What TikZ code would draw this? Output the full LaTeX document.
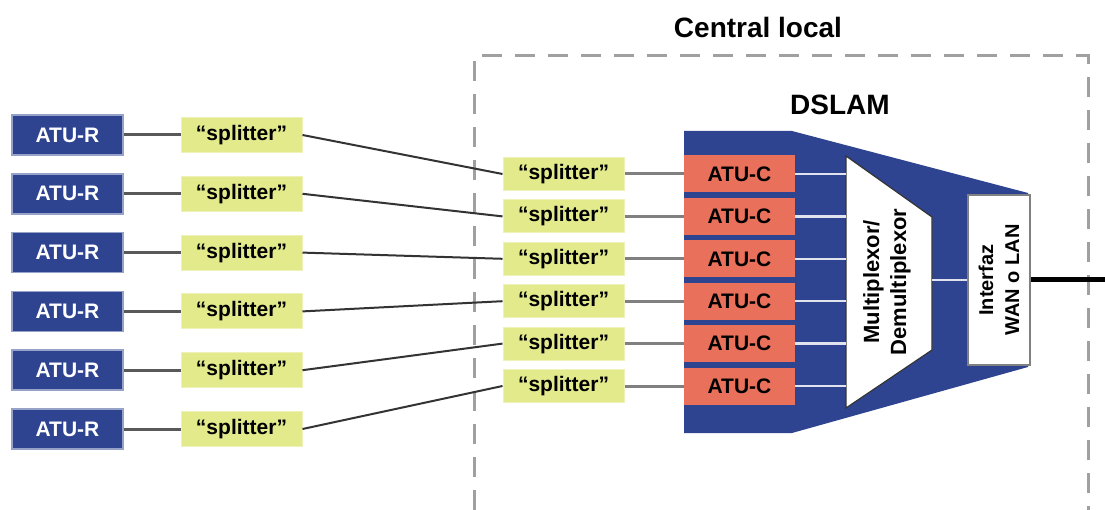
\documentclass[tikz,border=0pt]{standalone}
\usepackage{fontspec}
\setmainfont{Liberation Sans}
\usetikzlibrary{positioning}
\definecolor{dslamblue}{HTML}{2E4491}
\definecolor{atucorange}{HTML}{E9705A}
\definecolor{splitgreen}{HTML}{E2EA8B}
\definecolor{dashgray}{HTML}{A0A0A0}

\begin{document}
\begin{tikzpicture}
      [x=1pt, y=-1pt,
      atur box/.style={draw=dslamblue!50, line width=1.5pt, fill=dslamblue, text=white, minimum width=111pt, minimum height=40pt, inner sep=0pt, font=\bfseries\fontsize{21}{24}\selectfont},
      split box/.style={draw=splitgreen!60!white, line width=1pt, fill=splitgreen, minimum width=121pt, minimum height=35pt, inner sep=0pt, font=\bfseries\fontsize{21}{24}\selectfont},
      atuc box/.style={fill=atucorange, minimum width=111pt, minimum height=37pt, inner sep=0pt, font=\bfseries\fontsize{21}{24}\selectfont},
      wire/.style={draw=gray!70!black, line width=3pt},
      cross wire/.style={draw=black!80, line width=2pt},
      inner wire/.style={draw=white!85!dslamblue, line width=2.5pt},
      title/.style={font=\bfseries\fontsize{28}{32}\selectfont},
      ]
      \useasboundingbox (0,0) rectangle (1105,510);

      % central local
      \draw[dashgray, line width=3pt, dash pattern=on 20pt off 13pt]
        (474,510) -- (474,56) -- (1088,56) -- (1088,510);
      \node[title] (central) at (758,27) {Central local};
      \node[title] (dslam) at (840,105) {DSLAM};

      % DSLAM body
      \fill[dslamblue] (684,131) -- (792,131) -- (1028,193) -- (1028,367)
        -- (792,433) -- (684,433) -- cycle;
      \draw[fill=white, draw=black!80, line width=1.2pt]
        (846,156) -- (932,217) -- (932,350) -- (846,408) -- cycle;
      \coordinate (muxL) at (846,0);
      \coordinate (muxR) at (932,0);
      \coordinate (outR) at (1105,0);
      \node[rotate=90, align=center, font=\bfseries\fontsize{22}{27}\selectfont] (mux) at (887,282)
        {Multiplexor/\\Demultiplexor};
      \node[rotate=90, draw=gray, line width=2pt, fill=white, minimum width=170pt, minimum height=62pt,
        inner sep=0pt, align=center, font=\bfseries\fontsize{20}{26}\selectfont] (iface) at (999,280)
        {Interfaz\\WAN o LAN};
      \draw[inner wire] (iface.north -| muxR) -- (iface.north);
      \draw[black, line width=5pt] (iface.south) -- (iface.south -| outR);

      % lines
      \foreach \i in {1,...,6} {
        \node[atur box] (atuR\i) at (67.5,{135+58.8*(\i-1)}) {ATU-R};
        \node[split box] (splL\i) at (241.5,{135+58.8*(\i-1)}) {“splitter”};
        \node[split box, minimum height=33pt] (splR\i) at (563.5,{174+42.4*(\i-1)}) {“splitter”};
        \node[atuc box] (atuC\i) at (739.5,{174+42.4*(\i-1)}) {ATU-C};
        \draw[wire] (atuR\i) -- (splL\i);
        \draw[cross wire] (splL\i.east) -- (splR\i.west);
        \draw[wire, draw=gray] (splR\i) -- (atuC\i);
        \draw[inner wire] (atuC\i.east) -- (atuC\i.east -| muxL);
      }
    \end{tikzpicture}
\end{document}
